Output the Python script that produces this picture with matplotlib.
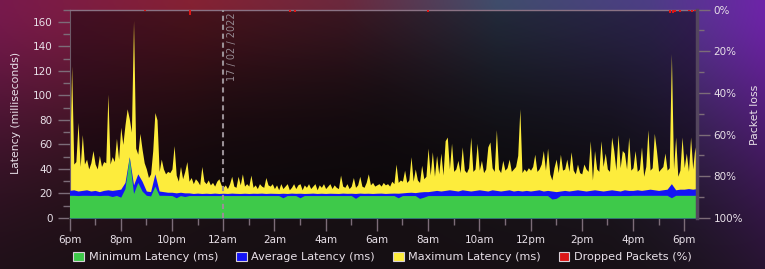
import numpy as np
import matplotlib
matplotlib.use("Agg")
import matplotlib.pyplot as plt
from matplotlib.patches import Patch

plt.rcParams['font.family'] = ['DejaVu Sans']
plt.rcParams['font.size'] = 7.5

# ---------------- data ----------------
# maximum latency, 5-minute samples starting 6pm (hours since 6pm = index / 12)
max_lat = [
    40, 124, 44, 46, 78, 42, 68, 44, 48, 40, 45, 55,
    44, 40, 51, 42, 46, 45, 101, 44, 50, 46, 65, 48,
    74, 60, 76, 89, 81, 70, 161, 57, 52, 69, 56, 45,
    40, 33, 36, 55, 86, 80, 38, 48, 40, 36, 38, 37,
    40, 59, 35, 30, 42, 32, 38, 46, 30, 33, 28, 32,
    30, 27, 42, 30, 28, 31, 27, 29, 26, 30, 32, 27,
    25, 27, 24, 28, 34, 26, 25, 34, 27, 36, 26, 28,
    26, 35, 25, 27, 24, 28, 26, 25, 33, 27, 26, 28,
    24, 27, 23, 28, 24, 26, 28, 23, 25, 28, 24, 27,
    28, 23, 27, 25, 28, 24, 26, 28, 23, 27, 25, 28,
    24, 26, 28, 24, 27, 25, 24, 35, 26, 25, 28, 24,
    26, 33, 25, 27, 34, 26, 25, 29, 36, 27, 29, 26,
    27, 28, 26, 29, 27, 28, 26, 30, 28, 44, 29, 31,
    30, 39, 29, 31, 50, 30, 40, 31, 29, 43, 32, 34,
    57, 35, 54, 34, 51, 36, 53, 35, 63, 66, 40, 61,
    38, 40, 47, 37, 58, 39, 37, 41, 66, 38, 40, 61,
    39, 47, 37, 40, 58, 62, 41, 38, 72, 40, 37, 47,
    39, 41, 48, 38, 40, 42, 51, 89, 37, 40, 38, 41,
    39, 42, 52, 38, 40, 44, 55, 39, 57, 36, 31, 41,
    48, 37, 52, 39, 40, 48, 38, 54, 39, 36, 44, 37,
    36, 44, 40, 38, 63, 31, 55, 40, 38, 63, 42, 53,
    40, 38, 66, 55, 39, 68, 41, 55, 53, 40, 66, 39,
    41, 55, 38, 40, 58, 34, 42, 72, 39, 41, 69, 55,
    38, 40, 42, 53, 39, 41, 134, 40, 66, 34, 39, 66,
    41, 53, 38, 66, 40, 58, 42,
]

# average latency, 10-minute samples (hours = index / 6)
avg_lat = [
    22.5, 23.0, 22.0, 22.5, 23.0, 22.0,
    22.5, 21.5, 22.5, 23.0, 22.5, 23.0,
    23.5, 29.0, 50.0, 27.0, 36.0, 30.0,
    22.0, 21.5, 36.0, 22.0, 21.5, 21.0,
    21.0, 20.5, 21.0, 20.5, 20.5, 20.0,
    20.3, 20.0, 20.2, 20.0, 20.3, 20.0,
    20.2, 20.0, 20.3, 20.1, 20.0, 20.2,
    20.0, 20.2, 20.1, 20.3, 20.0, 20.2,
    20.1, 20.0, 20.2, 20.0, 20.3, 20.1,
    20.2, 20.0, 20.1, 20.3, 20.0, 20.2,
    20.0, 20.2, 20.1, 20.0, 20.3, 20.1,
    20.2, 20.0, 20.3, 20.1, 20.2, 20.0,
    20.2, 20.3, 20.0, 20.2, 20.3, 20.2,
    20.5, 20.8, 21.0, 20.7, 21.2, 21.5,
    21.5, 22.0, 22.5, 22.0, 22.5, 23.0,
    22.5, 22.0, 23.0, 22.5, 22.0, 22.5,
    23.0, 22.5, 22.0, 23.0, 22.5, 22.0,
    22.5, 23.0, 22.0, 22.5, 22.0, 22.5,
    22.0, 22.5, 23.0, 22.0, 22.5, 22.0,
    21.5, 22.0, 22.5, 22.0, 22.5, 23.0,
    22.5, 22.0, 22.5, 23.0, 22.5, 22.0,
    22.5, 23.0, 22.5, 22.0, 23.0, 22.5,
    22.5, 23.0, 22.5, 23.0, 23.5, 23.0,
    22.5, 23.0, 23.5, 28.0, 23.0, 23.5,
    23.5, 24.0, 23.5, 24.0,
]

# minimum latency, 10-minute samples (hours = index / 6)
min_lat = [
    18.5, 18.5, 18.3, 18.5, 18.5, 18.4,
    18.5, 18.3, 18.5, 18.5, 17.5, 18.4,
    17.0, 24.0, 49.0, 20.0, 29.0, 22.0,
    18.5, 18.0, 26.0, 18.5, 18.5, 18.4,
    18.3, 16.5, 18.3, 17.5, 18.3, 18.3,
    18.3, 18.3, 18.3, 18.3, 18.3, 18.3,
    18.3, 18.3, 18.3, 18.3, 18.3, 18.3,
    18.3, 18.3, 18.3, 18.3, 18.3, 18.3,
    18.3, 18.3, 16.5, 18.3, 18.3, 18.3,
    16.5, 18.3, 18.3, 18.3, 18.3, 18.3,
    18.3, 18.3, 18.3, 18.3, 18.3, 18.3,
    18.3, 16.0, 18.3, 18.3, 18.3, 18.3,
    18.3, 18.3, 18.3, 18.3, 18.3, 16.5,
    18.3, 18.3, 18.3, 18.3, 16.0, 17.0,
    18.3, 18.3, 18.3, 18.3, 18.3, 18.3,
    18.3, 18.3, 18.3, 18.3, 18.3, 18.3,
    18.3, 18.3, 18.3, 18.3, 18.3, 18.3,
    18.3, 18.3, 18.3, 18.3, 18.3, 18.3,
    18.3, 18.3, 18.3, 18.3, 18.3, 15.5,
    16.0, 18.3, 18.3, 18.3, 18.3, 18.3,
    18.3, 18.3, 18.3, 18.3, 18.3, 18.3,
    18.3, 18.3, 18.3, 18.3, 18.3, 18.3,
    18.5, 18.5, 18.5, 18.5, 18.5, 18.5,
    18.5, 18.5, 18.5, 16.5, 18.5, 18.5,
    18.5, 18.5, 18.5, 18.5,
]

# dropped packets (hours since 6pm, percent)
loss_hours = [2.95, 4.7, 8.6, 8.8, 14.0, 23.45, 23.55, 23.65, 23.85, 24.2, 24.3, 24.42]
loss_pct = [0.8, 2.8, 1.0, 1.0, 1.0, 1.8, 1.5, 1.0, 1.3, 0.8, 1.0, 0.8]

x_tick_hours = [0, 2, 4, 6, 8, 10, 12, 14, 16, 18, 20, 22, 24]
x_tick_labels = ['6pm', '8pm', '10pm', '12am', '2am', '4am', '6am',
                 '8am', '10am', '12pm', '2pm', '4pm', '6pm']
y_ticks = [0, 20, 40, 60, 80, 100, 120, 140, 160]
loss_ticks = [0, 20, 40, 60, 80, 100]
loss_tick_labels = ['0%', '20%', '40%', '60%', '80%', '100%']
date_label = '17 / 02 / 2022'
date_hour = 6

series_names = ['Minimum Latency (ms)', 'Average Latency (ms)',
                'Maximum Latency (ms)', 'Dropped Packets (%)']

# ---------------- style ----------------
C_MIN = '#3ec94a'
C_AVG = '#1414f5'
C_MAX = '#fdec3c'
C_LOSS = '#dd1616'
TXT = '#e8e0e8'
TICK = '#7c6c78'

W, H = 765, 269
fig = plt.figure(figsize=(W / 100, H / 100), dpi=100)

# background gradient
bg = fig.add_axes([0, 0, 1, 1], zorder=-10)
bg.axis('off')
u = np.linspace(0, 1, W)
v = np.linspace(0, 1, H)
stops_u = [0.0, 0.25, 0.45, 0.65, 0.85, 1.0]
stops_c = np.array([
    [0.47, 0.10, 0.30],
    [0.52, 0.13, 0.20],
    [0.42, 0.16, 0.24],
    [0.25, 0.30, 0.42],
    [0.30, 0.24, 0.52],
    [0.43, 0.14, 0.66],
])
top = np.stack([np.interp(u, stops_u, stops_c[:, k]) for k in range(3)], axis=1)
d = np.interp(u, [0, 0.3, 0.5, 0.8, 1.0], [0.60, 0.38, 0.32, 0.45, 0.75])
w = np.exp(-(v[:, None] / d[None, :]) ** 1.6)
bottom = np.array([0.085, 0.06, 0.075])
img = bottom + (top[None, :, :] - bottom) * w[:, :, None]
bg.imshow(np.clip(img, 0, 1), aspect='auto', extent=[0, 1, 0, 1], origin='upper')
bg.set_xlim(0, 1)
bg.set_ylim(0, 1)

left_px, right_px, top_px, bot_px = 69.5, 697, 9.5, 218
ax = fig.add_axes([left_px / W, (H - bot_px) / H, (right_px - left_px) / W, (bot_px - top_px) / H])
ax.set_facecolor((0, 0, 0, 0.45))

t_max = np.arange(len(max_lat)) / 12.0
t_avg = np.arange(len(avg_lat)) / 6.0
t_min = np.arange(len(min_lat)) / 6.0

ax.fill_between(t_max, max_lat, color=C_MAX, lw=0, zorder=2)
ax.fill_between(t_avg, avg_lat, color=C_AVG, lw=0, zorder=3)
ax.fill_between(t_min, min_lat, color=C_MIN, lw=0, zorder=4)

ax.set_xlim(0, 24.5)
ax.set_ylim(0, 170)

ax.axvline(date_hour, color='#9a9096', lw=1.5, ls=(0, (2.5, 1.8)), zorder=5)
ax.text(date_hour + 0.35, 168, date_label, rotation=90, va='top', ha='center',
        color='#958a92', fontsize=7, zorder=6)

ax.set_xticks(x_tick_hours)
ax.set_xticklabels(x_tick_labels)
ax.set_xticks(list(range(1, 24, 2)), minor=True)
ax.set_yticks(y_ticks)
ax.set_yticks(list(range(10, 171, 20)), minor=True)
ax.tick_params(axis='both', which='major', length=9, width=1, color=TICK,
               labelcolor=TXT, labelsize=7.5, pad=3)
ax.tick_params(axis='both', which='minor', length=5, width=1, color=TICK)

ax.spines['top'].set_color('#8a7284')
ax.spines['top'].set_linewidth(1)
ax.spines['left'].set_color('#6e5a68')
ax.spines['bottom'].set_color('#383236')
ax.spines['bottom'].set_linewidth(1.5)
ax.spines['right'].set_visible(False)

ax2 = ax.twinx()
ax2.bar(loss_hours, loss_pct, width=0.07, bottom=0, color=C_LOSS, lw=0, zorder=6)
ax2.set_ylim(100, 0)
ax2.set_yticks(loss_ticks)
ax2.set_yticklabels(loss_tick_labels)
ax2.set_yticks(list(range(10, 100, 20)), minor=True)
ax2.tick_params(axis='y', which='major', length=9, width=1, color=TICK,
                labelcolor=TXT, labelsize=7.5, pad=3)
ax2.tick_params(axis='y', which='minor', length=5, width=1, color=TICK)
for s in ['left', 'top', 'bottom']:
    ax2.spines[s].set_visible(False)
ax2.spines['right'].set_color('#54465e')
ax2.spines['right'].set_linewidth(2.5)

fig.text(16 / W, 1 - 113 / H, 'Latency (milliseconds)', rotation=90,
         ha='center', va='center', color=TXT, fontsize=7.8)
fig.text(755 / W, 1 - 115 / H, 'Packet loss', rotation=90,
         ha='center', va='center', color=TXT, fontsize=7.8)

handles = [Patch(facecolor=c, edgecolor='#d8d0d8', lw=0.8)
           for c in [C_MIN, C_AVG, C_MAX, C_LOSS]]
leg = fig.legend(handles, series_names, loc='center', ncol=4,
                 bbox_to_anchor=(0.5, 1 - 257 / H), frameon=False,
                 handlelength=0.95, handleheight=0.95, handletextpad=0.4,
                 columnspacing=1.6, fontsize=8.1, borderpad=0)
for t in leg.get_texts():
    t.set_color(TXT)

fig.savefig('out.png', dpi=100)
